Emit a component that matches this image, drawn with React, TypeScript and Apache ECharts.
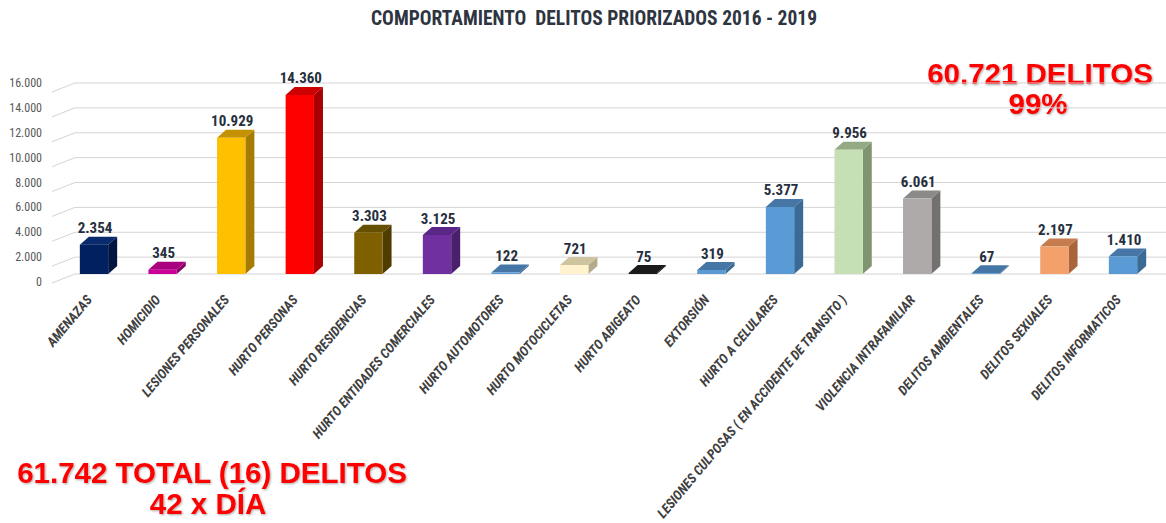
import React, { useEffect, useRef } from "react";
import * as echarts from "echarts";

const categories = [
  "AMENAZAS",
  "HOMICIDIO",
  "LESIONES PERSONALES",
  "HURTO PERSONAS",
  "HURTO RESIDENCIAS",
  "HURTO ENTIDADES COMERCIALES",
  "HURTO AUTOMOTORES",
  "HURTO MOTOCICLETAS",
  "HURTO ABIGEATO",
  "EXTORSIÓN",
  "HURTO A CELULARES",
  "LESIONES CULPOSAS ( EN ACCIDENTE DE TRANSITO )",
  "VIOLENCIA INTRAFAMILIAR",
  "DELITOS AMBIENTALES",
  "DELITOS SEXUALES",
  "DELITOS INFORMATICOS",
];
const values = [2354, 345, 10929, 14360, 3303, 3125, 122, 721, 75, 319, 5377, 9956, 6061, 67, 2197, 1410];
const frontColors = [
  "#002060", "#CC0099", "#FFC000", "#FF0000", "#7F6000", "#7030A0", "#5B9BD5", "#FFF2CC",
  "#0D0D0D", "#5B9BD5", "#5B9BD5", "#C5E0B4", "#AEAAAA", "#5B9BD5", "#F4A06B", "#5B9BD5",
];
const sideColors = [
  "#001540", "#8A0068", "#A67C00", "#A80000", "#4F3C00", "#4A1F6B", "#3A6A96", "#B5AB8C",
  "#000000", "#3A6A96", "#3A6A96", "#7F9470", "#737070", "#3A6A96", "#A9643B", "#3A6A96",
];
const topColors = [
  "#0A2A6E", "#A8007E", "#C49200", "#CC0000", "#665000", "#5A2688", "#4676A6", "#CFC4A0",
  "#1A1A1A", "#4676A6", "#4676A6", "#94AA84", "#8C8989", "#4676A6", "#C67C4E", "#4676A6",
];
const yTicks = [0, 2000, 4000, 6000, 8000, 10000, 12000, 14000, 16000];
const titleText = "COMPORTAMIENTO  DELITOS PRIORIZADOS 2016 - 2019";
const noteTopRight = ["60.721 DELITOS", "99%"];
const noteBottomLeft = ["61.742 TOTAL (16) DELITOS", "42 x DÍA"];

const NARROW = '"Liberation Sans Narrow", "Arial Narrow", "Roboto Condensed", Roboto, sans-serif';
const fmt = (n: number) => String(n).replace(/\B(?=(\d{3})+(?!\d))/g, ".");

export default function App() {
  const ref = useRef<HTMLDivElement>(null);
  useEffect(() => {
    if (!ref.current) return;
    const chart = echarts.init(ref.current, undefined, { renderer: "svg" });
    const redStyle = {
      fill: "#FF0000",
      font: 'bold 29.5px "Liberation Sans", Arial, sans-serif',
      align: "center",
      verticalAlign: "middle",
      textShadowColor: "rgba(0,0,0,0.35)",
      textShadowBlur: 2,
      textShadowOffsetX: 1,
      textShadowOffsetY: 1,
    };
    chart.setOption({
      animation: false,
      backgroundColor: "#ffffff",
      grid: [
        { left: 75, right: 0, top: 83, bottom: 241 },
        { left: 59.7, right: 8.7, top: 74.5, bottom: 249 },
        { left: 54.7, right: 13.7, top: 83, bottom: 241 },
      ],
      xAxis: [
        { gridIndex: 0, type: "category", data: categories, show: false },
        { gridIndex: 1, type: "category", data: categories, show: false },
        {
          gridIndex: 2,
          type: "category",
          data: categories,
          axisLine: { show: false },
          axisTick: { show: false },
          axisLabel: {
            interval: 0,
            rotate: 50,
            margin: 16,
            fontSize: 13.5,
            fontStyle: "italic",
            fontWeight: "bold",
            fontFamily: NARROW,
            color: "#404040",
          },
        },
      ],
      yAxis: [
        {
          gridIndex: 0,
          type: "value",
          min: 0,
          max: 16000,
          interval: 2000,
          axisLine: { show: false },
          axisTick: { show: false },
          splitLine: { show: false },
          axisLabel: {
            formatter: (v: number) => fmt(v),
            color: "#595959",
            fontSize: 12,
            fontFamily: NARROW,
            margin: 33,
          },
        },
        { gridIndex: 1, type: "value", min: 0, max: 16000, show: false, splitLine: { show: false } },
        { gridIndex: 2, type: "value", min: 0, max: 1, show: false, splitLine: { show: false } },
      ],
      series: [
        {
          type: "custom",
          name: "wall",
          xAxisIndex: 0,
          yAxisIndex: 0,
          silent: true,
          data: yTicks.map((v) => [0, v]),
          renderItem: (params: any, api: any) => {
            const v = api.value(1);
            const cs = params.coordSys;
            const p = api.coord([0, v]);
            const y = p[1] - (v === 0 ? 8 : 0);
            const st = { stroke: "#D4D4D4", lineWidth: 1 };
            return {
              type: "group",
              children: [
                { type: "line", shape: { x1: cs.x, y1: y, x2: cs.x + cs.width, y2: y }, style: st },
                { type: "line", shape: { x1: cs.x - 23, y1: y + 9, x2: cs.x, y2: y }, style: st },
              ],
            };
          },
          z: 1,
        },
        {
          type: "custom",
          name: "delitos",
          xAxisIndex: 1,
          yAxisIndex: 1,
          data: values.map((v, i) => [i, v]),
          renderItem: (params: any, api: any) => {
            const i = api.value(0);
            const v = api.value(1);
            const base = api.coord([i, 0]);
            const top = api.coord([i, v]);
            const band = api.size([1, 0])[0];
            const w = band * 0.413;
            const dx = 9;
            const dy = 8;
            const xL = base[0] - w / 2;
            const xR = base[0] + w / 2;
            const yB = base[1];
            const yT = top[1];
            return {
              type: "group",
              children: [
                {
                  type: "polygon",
                  shape: { points: [[xR, yB], [xR + dx, yB - dy], [xR + dx, yT - dy], [xR, yT]] },
                  style: { fill: sideColors[i] },
                },
                {
                  type: "polygon",
                  shape: { points: [[xL, yT], [xR, yT], [xR + dx, yT - dy], [xL + dx, yT - dy]] },
                  style: { fill: topColors[i] },
                },
                {
                  type: "rect",
                  shape: { x: xL, y: yT, width: w, height: Math.max(yB - yT, 0.5) },
                  style: { fill: frontColors[i] },
                },
                {
                  type: "text",
                  x: base[0] + 1,
                  y: yT - dy - 1,
                  style: {
                    text: fmt(v),
                    align: "center",
                    verticalAlign: "bottom",
                    fill: "#262F3D",
                    font: `bold 15px ${NARROW}`,
                  },
                },
              ],
            };
          },
          z: 2,
        },
      ],
      graphic: [
        {
          type: "text",
          x: 594,
          y: 18,
          style: {
            text: titleText,
            fill: "#2E3440",
            font: `bold 19.5px ${NARROW}`,
            align: "center",
            verticalAlign: "middle",
          },
        },
        { type: "text", x: 1040, y: 73, style: { ...redStyle, text: noteTopRight[0] } },
        { type: "text", x: 1038, y: 103, style: { ...redStyle, text: noteTopRight[1] } },
        { type: "text", x: 212, y: 472, style: { ...redStyle, text: noteBottomLeft[0] } },
        { type: "text", x: 208, y: 503, style: { ...redStyle, text: noteBottomLeft[1] } },
      ],
    });
    return () => chart.dispose();
  }, []);
  return (
    <div
      ref={ref}
      style={{ position: "fixed", left: 0, top: 0, width: 1166, height: 523, background: "#fff" }}
    />
  );
}
